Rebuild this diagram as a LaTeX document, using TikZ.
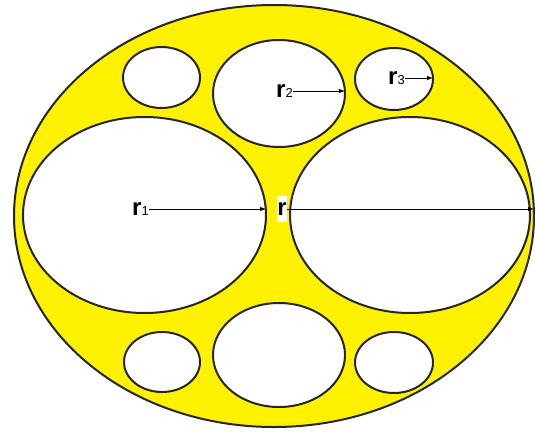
\documentclass[tikz,border=0pt]{standalone}
\usepackage{fontspec}
\setmainfont{Liberation Sans}
\usetikzlibrary{shapes.geometric,arrows.meta}

\tikzset{
	hole/.style={ellipse, draw=black!85, line width=2pt, fill=white, inner sep=0pt, outer sep=0pt},
	rlabel/.style={font=\fontsize{24}{24}\selectfont\bfseries, inner sep=0pt},
	rarrow/.style={-{Latex[length=6pt,width=4.5pt]}, line width=0.8pt}
}
\newcommand{\rsub}[1]{r{\fontsize{13}{13}\selectfont\mdseries #1}}

\begin{document}
\begin{tikzpicture}[x=1pt,y=-1pt]
		\useasboundingbox (0,0) rectangle (535,431);

		% Draw the outer ellipse
		\node[ellipse, draw=black!85, line width=2pt, fill=yellow, inner sep=0pt, outer sep=0pt,
			minimum width=520pt, minimum height=422pt] (outer) at (274,216) {};

		% The two large holes
		\node[hole, minimum width=243pt, minimum height=196pt] (bigL) at (144.5,215) {};
		\node[hole, minimum width=240pt, minimum height=196pt] (bigR) at (410,215) {};

		% Upper row of holes
		\node[hole, minimum width=77pt, minimum height=61pt] (topL) at (161.5,77.5) {};
		\node[hole, minimum width=132pt, minimum height=107pt] (topM) at (279,93.5) {};
		\node[hole, minimum width=78pt, minimum height=62pt] (topR) at (394,79) {};

		% Lower row of holes
		\node[hole, minimum width=76pt, minimum height=60pt] (botL) at (162,362) {};
		\node[hole, minimum width=132pt, minimum height=104pt] (botM) at (279,355) {};
		\node[hole, minimum width=78pt, minimum height=61pt] (botR) at (394,362.5) {};

		% Labels for the radii
		\node[rlabel, anchor=west] (r1lab) at (132,209) {\rsub{1}};
		\node[rlabel, fill=white, minimum height=26pt, inner xsep=0.3pt] (rlab) at (282,209) {r};
		\node[rlabel, anchor=west] (r2lab) at (276,91) {\rsub{2}};
		\node[rlabel, anchor=west] (r3lab) at (388,78) {\rsub{3}};

		% Radius arrows
		\draw[rarrow] (r1lab.east) -- (r1lab.east -| bigL.east);
		\draw[rarrow] (rlab.east) -- (rlab.east -| outer.east);
		\draw[rarrow] (r2lab.east) -- (r2lab.east -| topM.east);
		\draw[rarrow] (r3lab.east) -- (r3lab.east -| topR.east);
	\end{tikzpicture}
\end{document}
